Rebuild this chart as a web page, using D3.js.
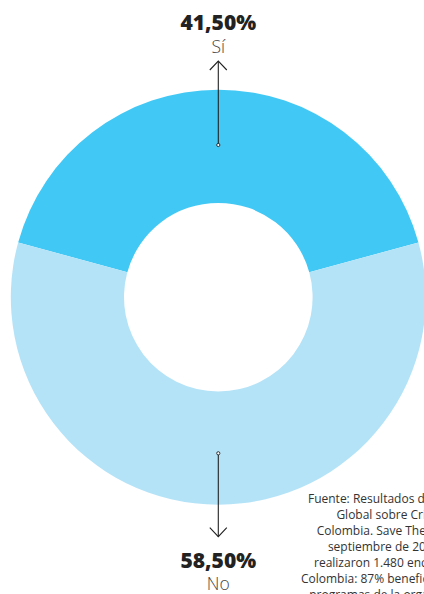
<!DOCTYPE html>
<html><head><meta charset="utf-8">
<script src="https://cdn.jsdelivr.net/npm/d3@7"></script>
<style>html,body{margin:0;padding:0;background:#fff;overflow:hidden}</style>
</head><body>
<svg id="chart" width="424" height="594"></svg>
<script>
const categories = ["Sí", "No"];
const values = [41.5, 58.5];
const valueLabels = ["41,50%", "58,50%"];
const colors = ["#42c8f5", "#b4e3f8"];
const sourceLines = [
  "Fuente: Resultados de la Encuesta",
  "Global sobre Crianza en",
  "Colombia. Save The Children, a",
  "septiembre de 2023. Allí se",
  "realizaron 1.480 encuestas para",
  "Colombia: 87% beneficiarios de los 3",
  "programas de la organización y el"
];

const svg = d3.select("#chart");
const cx = 218.3, cy = 297.2, rOuter = 207.5, rInner = 94.3;
const g = svg.append("g").attr("transform", `translate(${cx},${cy})`);

const total = d3.sum(values);
const half = values[0] / total * Math.PI; // center the "Sí" slice at the top
const pie = d3.pie().sort(null).value(d => d)
  .startAngle(-half).endAngle(2 * Math.PI - half);
const arcs = pie(values);
const arc = d3.arc().innerRadius(rInner).outerRadius(rOuter);

g.selectAll("path.slice").data(arcs).enter().append("path")
  .attr("class", "slice")
  .attr("d", arc)
  .attr("fill", (d, i) => colors[i]);

// Leader arrows
const ink = "#222";
function arrow(dotY, tipY) {
  const dir = Math.sign(tipY - dotY);
  g.append("line").attr("x1", 0).attr("x2", 0).attr("y1", dotY).attr("y2", tipY)
    .attr("stroke", ink).attr("stroke-width", 1.1);
  g.append("path")
    .attr("d", `M-8.5,${tipY - dir * 9}L0,${tipY}L8.5,${tipY - dir * 9}`)
    .attr("fill", "none").attr("stroke", ink).attr("stroke-width", 1.1);
  g.append("circle").attr("cx", 0).attr("cy", dotY).attr("r", 1.6)
    .attr("fill", "#fff").attr("stroke", ink).attr("stroke-width", 0.9);
}
arrow(145 - cy, 61 - cy);
arrow(453.3 - cy, 536.7 - cy);

// Labels
const labelFont = "'Open Sans', 'DejaVu Sans', sans-serif";
function label(i, pctY, catY) {
  svg.append("text").attr("x", cx).attr("y", pctY).attr("text-anchor", "middle")
    .attr("font-family", labelFont).attr("font-weight", 800).attr("font-size", 21)
    .attr("fill", "#222").text(valueLabels[i]);
  svg.append("text").attr("x", cx).attr("y", catY).attr("text-anchor", "middle")
    .attr("font-family", labelFont).attr("font-weight", 300).attr("font-size", 17.5)
    .attr("fill", "#444").text(categories[i]);
}
label(0, 30, 53);
label(1, 567.5, 589.5);

// Source note (clipped by the page edge, as in the original)
svg.append("g").selectAll("text").data(sourceLines).enter().append("text")
  .attr("x", 403).attr("y", (d, i) => 503 + i * 16)
  .attr("text-anchor", "middle")
  .attr("font-family", labelFont).attr("font-weight", 400).attr("font-size", 12)
  .attr("fill", "#333").text(d => d);
</script>
</body></html>
